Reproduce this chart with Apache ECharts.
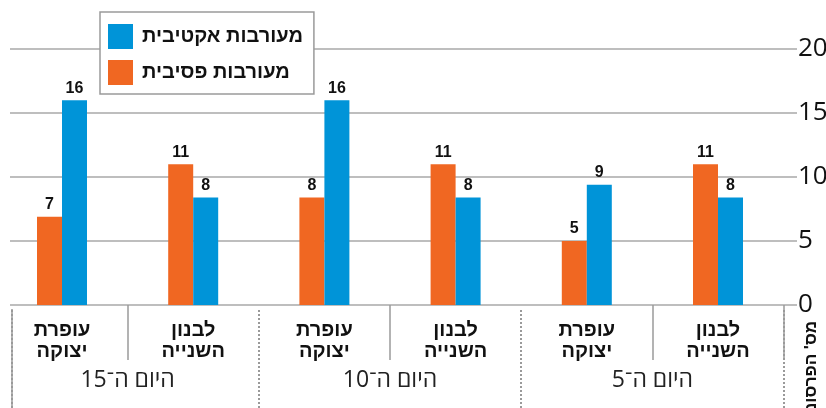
<!DOCTYPE html>
<html>
<head>
<meta charset="utf-8">
<script src="https://cdn.jsdelivr.net/npm/echarts@6/dist/echarts.min.js"></script>
<style>
html,body{margin:0;padding:0;background:#fff;}
#chart{width:826px;height:408px;}
</style>
</head>
<body>
<div id="chart"></div>
<script>
const categories = ['עופרת\nיצוקה', 'לבנון\nהשנייה', 'עופרת\nיצוקה', 'לבנון\nהשנייה', 'עופרת\nיצוקה', 'לבנון\nהשנייה'];
const days = ['היום ה־15', 'היום ה־10', 'היום ה־5'];
const passiveName = 'מעורבות פסיבית';
const activeName = 'מעורבות אקטיבית';
const passive = [6.9, 11, 8.4, 11, 5, 11];
const active = [16, 8.4, 16, 8.4, 9.4, 8.4];
const yMin = 0, yMax = 20, yStep = 5;
const yTitle = "מס' הפרסומים";

const chart = echarts.init(document.getElementById('chart'), null, {renderer: 'canvas'});
const boldFont = "'Liberation Sans', 'DejaVu Sans', sans-serif";
const barLabel = {
  show: true, position: 'top', distance: 4,
  fontFamily: boldFont, fontWeight: 'bold', fontSize: 16, color: '#111',
  formatter: p => String(Math.round(p.value))
};
const gridBase = {containLabel: false, outerBoundsMode: 'none'};
chart.setOption({
  animation: false,
  backgroundColor: '#fff',
  grid: [
    Object.assign({left: 10, right: 29, top: 49, bottom: 103}, gridBase),
    Object.assign({left: -3.6, width: 787.2, top: 49, bottom: 103}, gridBase),
    Object.assign({left: 12, width: 1, top: 310, bottom: 0}, gridBase)
  ],
  legend: {
    left: 100, top: 12, orient: 'vertical',
    data: [activeName, passiveName],
    icon: 'rect', itemWidth: 25, itemHeight: 25, itemGap: 11,
    padding: [12, 11, 9, 8],
    backgroundColor: '#fff', borderColor: '#9a9a9a', borderWidth: 1.5,
    textStyle: {fontSize: 20, lineHeight: 25, fontWeight: 'bold', color: '#111', fontFamily: boldFont, padding: [0, 0, 0, 4]}
  },
  xAxis: [
    {gridIndex: 0, type: 'category', data: [''], show: false},
    {gridIndex: 1, type: 'category', data: categories, position: 'bottom', offset: 7,
      axisLine: {show: false},
      axisTick: {show: true, interval: (i) => i % 2 === 1, length: 55, lineStyle: {color: '#9a9a9a', width: 1.5}},
      axisLabel: {interval: 0, margin: 8, fontWeight: 'bold', fontSize: 20, lineHeight: 21, color: '#111', fontFamily: boldFont}
    },
    {gridIndex: 1, type: 'category', data: days, position: 'bottom', offset: 5,
      axisLine: {show: false},
      axisTick: {show: true, length: 110, lineStyle: {type: 'dotted', color: '#9a9a9a', width: 2}},
      axisLabel: {interval: 0, margin: 59, fontSize: 23, color: '#222', fontFamily: "'Open Sans', sans-serif"}
    },
    {gridIndex: 2, type: 'value', show: false}
  ],
  yAxis: [
    {gridIndex: 0, type: 'value', min: yMin, max: yMax, interval: yStep, position: 'right',
      axisLine: {show: false}, axisTick: {show: false},
      splitLine: {lineStyle: {color: '#a8a8a8', width: 1.5}},
      axisLabel: {margin: 1, fontSize: 26, color: '#111', fontFamily: "'Open Sans', sans-serif"},
      name: yTitle, nameLocation: 'start', nameRotate: 90, nameGap: 13,
      nameTextStyle: {fontSize: 17, fontWeight: 'bold', color: '#111', fontFamily: boldFont, verticalAlign: 'top', padding: [6, 0, 0, 0]}
    },
    {gridIndex: 1, type: 'value', min: yMin, max: yMax, show: false},
    {gridIndex: 2, type: 'value',
      axisLine: {show: true, lineStyle: {type: 'dotted', color: '#9a9a9a', width: 2}},
      axisTick: {show: false}, axisLabel: {show: false}, splitLine: {show: false}}
  ],
  series: [
    {type: 'bar', name: passiveName, xAxisIndex: 1, yAxisIndex: 1, data: passive,
      barWidth: 25, barGap: '0%', itemStyle: {color: '#F06722'}, label: barLabel},
    {type: 'bar', name: activeName, xAxisIndex: 1, yAxisIndex: 1, data: active,
      barWidth: 25, barGap: '0%', itemStyle: {color: '#0094D8'}, label: barLabel}
  ]
});
</script>
</body>
</html>
